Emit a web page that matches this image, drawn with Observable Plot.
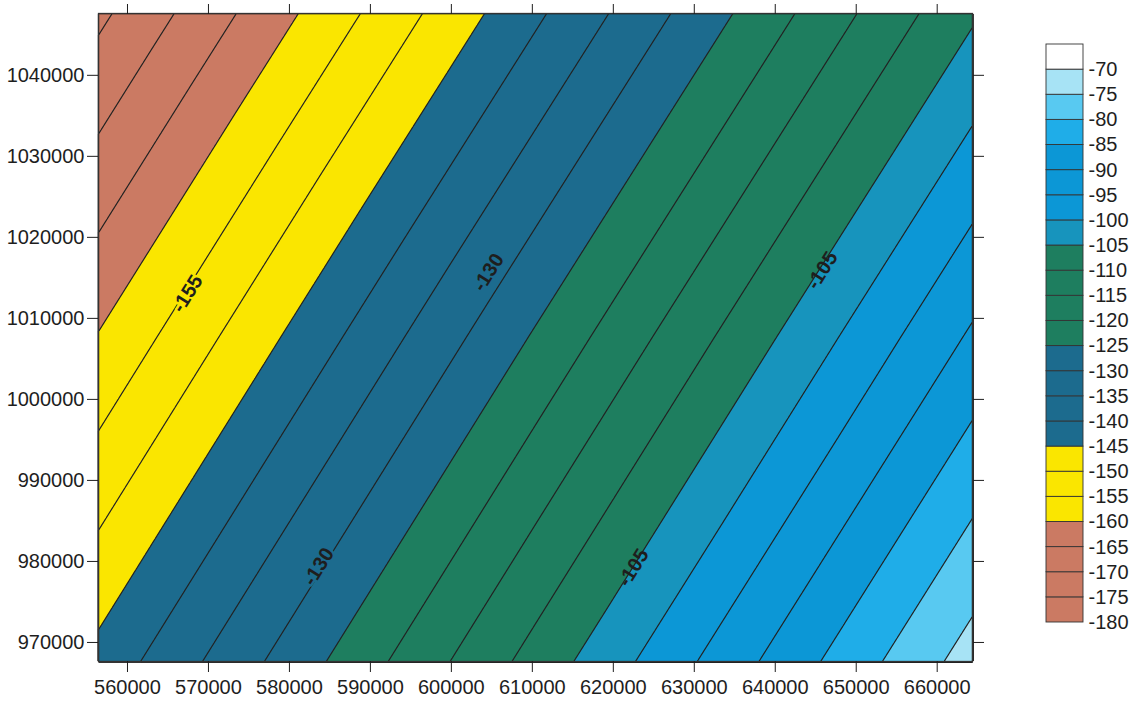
<!DOCTYPE html>
<html><head><meta charset="utf-8">
<script src="https://cdn.jsdelivr.net/npm/d3@7"></script>
<script src="https://cdn.jsdelivr.net/npm/@observablehq/plot@0.6"></script>
<style>
body{margin:0;background:#fff;}
#wrap{position:relative;width:1134px;height:703px;font-family:Arial,"Liberation Sans",sans-serif;}
#wrap svg{position:absolute;top:0;}
</style></head><body><div id="wrap"></div>
<script>
const sampleX = [556420, 610390, 664360];
const sampleY = [1047630, 1007640, 967650];
const sampleV = [
  [-176.1, -140.9, -105.7],
  [-159.7, -124.4, -89.2],
  [-143.4, -108.1, -72.7]
];
// Contour levels (band lower bounds) and their colours
const levels = [-180,-175,-170,-165,-160,-155,-150,-145,-140,-135,-130,-125,-120,-115,-110,-105,-100,-95,-90,-85,-80,-75,-70];
const levelColors = [
  "#cb7a63","#cb7a63","#cb7a63","#cb7a63",
  "#fae600","#fae600","#fae600",
  "#1c6b8e","#1c6b8e","#1c6b8e","#1c6b8e",
  "#1e7e5f","#1e7e5f","#1e7e5f","#1e7e5f",
  "#1794bd",
  "#0c97d6","#0c97d6","#0c97d6",
  "#1fade8",
  "#58c9f1",
  "#a7e3f5",
  "#ffffff"
];
const xTicks = [560000,570000,580000,590000,600000,610000,620000,630000,640000,650000,660000];
const yTicks = [970000,980000,990000,1000000,1010000,1020000,1030000,1040000];
// Contour labels
const labelLevels = [-155, -130, -130, -105, -105];
const labelX = [567405, 604588, 583609, 645807, 622484];
const labelY = [1013039, 1015670, 979351, 1015917, 979228];

const pts = [];
sampleY.forEach((y, i) => sampleX.forEach((x, j) => pts.push({x, y, v: sampleV[i][j]})));
const labels = labelLevels.map((lv, i) => ({lv, x: labelX[i], y: labelY[i]}));
const colorOf = v => levelColors[levels.indexOf(v)];
const interior = labels.filter(d => colorOf(d.lv) === colorOf(d.lv - 5));
const boundary = labels.filter(d => colorOf(d.lv) !== colorOf(d.lv - 5));

const colorScale = {type: "ordinal", domain: levels, range: levelColors};
const font = "Arial, 'Liberation Sans', sans-serif";

const main = Plot.plot({
  width: 1134, height: 703,
  marginLeft: 98, marginRight: 162, marginTop: 13, marginBottom: 42,
  x: {domain: [556420, 664360]},
  y: {domain: [967650, 1047630]},
  color: colorScale,
  style: {fontFamily: font, fontSize: "20px", color: "#1e1e1e", background: "transparent"},
  marks: [
    Plot.frame({fill: levelColors[0]}),
    Plot.contour(pts, {x: "x", y: "y", fill: "v", thresholds: levels, interpolate: "barycentric",
      stroke: "#222", strokeWidth: 1.25, pixelSize: 1}),
    Plot.text(interior, {x: "x", y: "y", text: d => String(d.lv), rotate: -57.8,
      fontSize: 20, fontWeight: "bold", fill: "#1e1e1e", stroke: "lv", strokeWidth: 5, paintOrder: "stroke"}),
    Plot.text(boundary, {x: "x", y: "y", text: d => String(d.lv), rotate: -57.8,
      fontSize: 20, fontWeight: "bold", fill: "#1e1e1e"}),
    Plot.frame({stroke: "#333", strokeWidth: 1.3}),
    Plot.axisX({anchor: "bottom", ticks: xTicks, tickSize: 11, tickPadding: 7, tickFormat: d => String(d), fontSize: 20, label: null}),
    Plot.axisX({anchor: "top", ticks: xTicks, tickSize: 10, tickFormat: () => "", label: null}),
    Plot.axisY({anchor: "left", ticks: yTicks, tickSize: 11, tickPadding: 3, tickFormat: d => String(d), fontSize: 20, label: null}),
    Plot.axisY({anchor: "right", ticks: yTicks, tickSize: 11, tickFormat: () => "", label: null})
  ]
});
main.style.left = "0px";

const legend = Plot.plot({
  width: 104, height: 703, margin: 0,
  x: {domain: [0, 1], range: [16, 53], axis: null},
  y: {domain: [-180, -65], range: [622, 44], axis: null},
  color: colorScale,
  style: {fontFamily: font, fontSize: "20px", color: "#1e1e1e", background: "transparent"},
  marks: [
    Plot.rect(levels, {x1: 0, x2: 1, y1: d => d, y2: d => d + 5, fill: d => d, stroke: "#333", strokeWidth: 0.9}),
    Plot.text(levels, {x: 1, y: d => d, text: d => String(d), dx: 5, textAnchor: "start", fontSize: 20, fill: "#1e1e1e"})
  ]
});
legend.style.left = "1030px";

const wrap = document.getElementById("wrap");
wrap.appendChild(main);
wrap.appendChild(legend);
</script>
</body></html>
